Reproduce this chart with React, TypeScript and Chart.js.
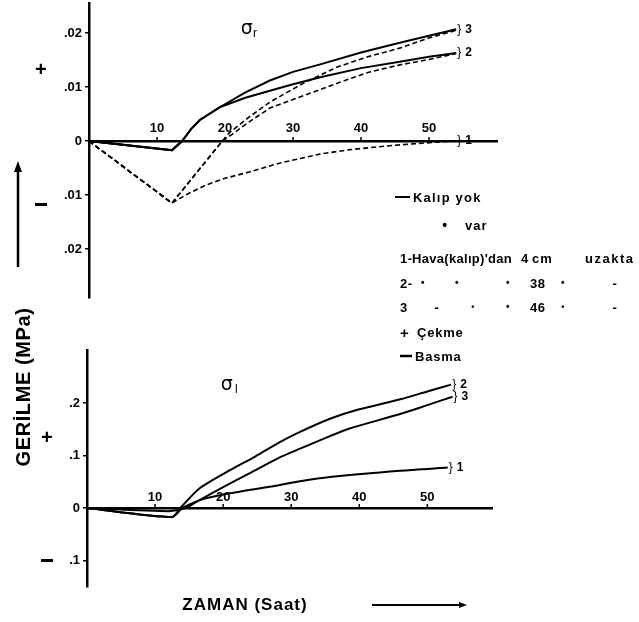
import React, { useEffect, useRef } from 'react';
import { Chart, registerables } from 'chart.js';

Chart.register(...registerables);

const FONT = '"Liberation Sans", Arial, Helvetica, sans-serif';

// ---------------- data ----------------
const TIME_TICKS = [10, 20, 30, 40, 50];

const SR_Y_TICKS = [0.02, 0.01, 0, -0.01, -0.02];
const SR_Y_LABELS = ['.02', '.01', '0', '.01', '.02'];
const SL_Y_TICKS = [0.2, 0.1, 0, -0.1];
const SL_Y_LABELS = ['.2', '.1', '0', '.1'];

// σr – Kalıp yok (solid)  [time (h), stress (MPa)]
const srYok1: number[][] = [[0, 0], [12.2, -0.0017], [13.7, 0], [54, 0]];
const srYok2: number[][] = [[0, 0], [12.2, -0.0017], [13.7, 0], [15, 0.0022], [16.3, 0.0039], [19.3, 0.0063], [23, 0.008], [26.6, 0.0093], [30, 0.0105], [34, 0.0118], [40, 0.0135], [45.7, 0.0147], [50, 0.0156], [54, 0.0163]];
const srYok3: number[][] = [[0, 0], [12.2, -0.0017], [13.7, 0], [15, 0.0022], [16.3, 0.0039], [19.3, 0.0063], [23, 0.009], [26.6, 0.0112], [30, 0.0128], [34, 0.0142], [40, 0.0164], [45.7, 0.0182], [50, 0.0195], [54, 0.0207]];
// σr – Kalıp var (dashed)
const srVar1: number[][] = [[0, 0], [12.2, -0.0115], [14.5, -0.0098], [17.3, -0.0081], [20, -0.0069], [23.7, -0.0057], [28, -0.0041], [34, -0.0024], [38.4, -0.0016], [44.7, -0.0008], [51.2, -0.0002], [54, 0]];
const srVar2: number[][] = [[0, 0], [12.2, -0.0115], [19.6, 0], [21, 0.0012], [23.5, 0.0035], [26.6, 0.0061], [31.5, 0.0084], [36.5, 0.0107], [41, 0.0127], [45.7, 0.0141], [50, 0.0151], [54, 0.0162]];
const srVar3: number[][] = [[0, 0], [12.2, -0.0115], [19.6, 0], [20.7, 0.0016], [23.5, 0.0044], [26.6, 0.0072], [31.5, 0.0107], [36.5, 0.0137], [41, 0.0156], [45.7, 0.0172], [50, 0.0191], [54, 0.0205]];

// σl (solid)
const sl1: number[][] = [[0, 0], [12, -0.006], [14.5, 0], [16.6, 0.015], [21, 0.028], [28.4, 0.044], [31.3, 0.051], [35.7, 0.059], [46, 0.071], [53, 0.077]];
const sl2: number[][] = [[0, 0], [12.5, -0.017], [13.7, 0], [16.6, 0.038], [21, 0.072], [24.7, 0.098], [28.4, 0.126], [31.3, 0.145], [35.7, 0.17], [40, 0.188], [46, 0.207], [50, 0.222], [53.5, 0.235]];
const sl3: number[][] = [[0, 0], [12.5, -0.017], [14, 0], [16.5, 0.015], [19.6, 0.037], [24, 0.067], [28.4, 0.097], [31.3, 0.113], [35.7, 0.137], [38.7, 0.152], [46, 0.179], [50, 0.196], [53.7, 0.212]];

// ---------------- helpers ----------------
const toXY = (pts: number[][]) => pts.map(([x, y]) => ({ x, y }));
const solid = (pts: number[][], endLabel?: string, tension = 0) => ({
  data: toXY(pts), borderColor: '#000', borderWidth: 2, pointRadius: 0, tension, fill: false, endLabel,
});
const dashed = (pts: number[][]) => ({
  data: toXY(pts), borderColor: '#000', borderWidth: 1.6, borderDash: [5, 3], pointRadius: 0, tension: 0, fill: false,
});

const makeAnnot = (labelOffset: number) => ({
  id: 'annot',
  afterDatasetsDraw(chart: any) {
    const { ctx } = chart;
    const x = chart.scales.x;
    const y = chart.scales.y;
    const y0 = y.getPixelForValue(0);
    ctx.save();
    ctx.fillStyle = '#000';
    ctx.strokeStyle = '#000';
    ctx.lineWidth = 1.5;
    ctx.font = `bold 13px ${FONT}`;
    ctx.textAlign = 'center';
    ctx.textBaseline = 'middle';
    for (const t of TIME_TICKS) {
      const px = x.getPixelForValue(t);
      ctx.beginPath();
      ctx.moveTo(px, y0);
      ctx.lineTo(px, y0 - 4);
      ctx.stroke();
      ctx.fillText(String(t), px, y0 - labelOffset);
    }
    ctx.textAlign = 'left';
    chart.data.datasets.forEach((ds: any) => {
      if (!ds.endLabel) return;
      const last = ds.data[ds.data.length - 1];
      const px = x.getPixelForValue(last.x);
      const py = y.getPixelForValue(last.y);
      ctx.font = `12px ${FONT}`;
      ctx.fillText('}', px + 1, py);
      ctx.font = `bold 12px ${FONT}`;
      ctx.fillText(ds.endLabel, px + 9, py);
    });
    ctx.restore();
  },
});

interface PanelProps {
  top: number; height: number; padding: any; yWidth: number; xMax: number;
  yMin: number; yMax: number; yTicks: number[]; yLabels: string[]; datasets: any[]; labelOffset: number;
}

function Panel(p: PanelProps) {
  const ref = useRef<HTMLCanvasElement>(null);
  useEffect(() => {
    const chart = new Chart(ref.current as HTMLCanvasElement, {
      type: 'line',
      data: { datasets: p.datasets },
      options: {
        animation: false,
        responsive: false,
        maintainAspectRatio: false,
        events: [],
        layout: { padding: p.padding },
        plugins: { legend: { display: false }, tooltip: { enabled: false } },
        scales: {
          x: {
            type: 'linear', min: 0, max: p.xMax, position: { y: 0 } as any,
            ticks: { display: false }, grid: { display: false },
            border: { display: true, color: '#000', width: 2.5 },
          },
          y: {
            type: 'linear', min: p.yMin, max: p.yMax, position: 'left',
            afterBuildTicks: (s: any) => { s.ticks = p.yTicks.map((v) => ({ value: v })); },
            afterFit: (s: any) => { s.width = p.yWidth; s.paddingTop = 0; s.paddingBottom = 0; },
            ticks: {
              callback: (_v: any, i: number) => p.yLabels[i] ?? '',
              font: { size: 13, weight: 'bold', family: FONT }, color: '#000', padding: 3,
            },
            grid: { display: true, drawOnChartArea: false, drawTicks: true, tickLength: 4, color: '#000', lineWidth: 1.5 },
            border: { display: true, color: '#000', width: 2.5 },
          },
        },
      } as any,
      plugins: [makeAnnot(p.labelOffset)],
    });
    return () => chart.destroy();
  }, []);
  return (
    <canvas ref={ref} width={639} height={p.height}
      style={{ position: 'absolute', left: 0, top: p.top, width: 639, height: p.height }} />
  );
}

function T(props: { x: number; y: number; s: string; size?: number; bold?: boolean; ls?: number; center?: boolean; family?: string }) {
  const { x, y, s, size = 14, bold = true, ls = 0.5, center = false, family = FONT } = props;
  return (
    <div style={{
      position: 'absolute', left: x, top: y, transform: center ? 'translate(-50%,-50%)' : 'translate(0,-50%)',
      fontFamily: family, fontWeight: bold ? 700 : 400, fontSize: size, lineHeight: 1, whiteSpace: 'pre',
      letterSpacing: ls, color: '#000', pointerEvents: 'none',
    }}>{s}</div>
  );
}

export default function App() {
  const topSets = [
    solid(srYok1, '1'), solid(srYok2, '2'), solid(srYok3, '3'),
    dashed(srVar1), dashed(srVar2), dashed(srVar3),
  ];
  const botSets = [solid(sl1, '1', 0.25), solid(sl2, '2', 0.25), solid(sl3, '3', 0.25)];

  return (
    <div style={{ position: 'fixed', left: 0, top: 0, width: 639, height: 622, background: '#fff', overflow: 'hidden' }}>
      <Panel top={0} height={310} padding={{ left: 0, top: 3, right: 142, bottom: 12 }} yWidth={89} xMax={60}
        yMin={-0.02907} yMax={0.02556} yTicks={SR_Y_TICKS} yLabels={SR_Y_LABELS} datasets={topSets} labelOffset={13} />
      <Panel top={320} height={280} padding={{ left: 0, top: 30, right: 147, bottom: 13 }} yWidth={87} xMax={59.5}
        yMin={-0.1505} yMax={0.301} yTicks={SL_Y_TICKS} yLabels={SL_Y_LABELS} datasets={botSets} labelOffset={11} />

      <svg width={639} height={622} style={{ position: 'absolute', left: 0, top: 0, pointerEvents: 'none' }}>
        <line x1={18} y1={267} x2={18} y2={170} stroke="#000" strokeWidth={2.5} />
        <polygon points="18,161 14,172 22,172" fill="#000" />
        <line x1={372} y1={605} x2={460} y2={605} stroke="#000" strokeWidth={2} />
        <polygon points="467,605 459,602 459,608" fill="#000" />
        <line x1={395} y1={197} x2={410} y2={197} stroke="#000" strokeWidth={2} />
        <line x1={400} y1={356} x2={412} y2={356} stroke="#000" strokeWidth={2.5} />
      </svg>

      {/* panel titles */}
      <T x={247} y={27} s="σ" size={19} bold={false} center family='"DejaVu Sans", sans-serif' />
      <T x={253} y={33} s="r" size={12} bold={false} />
      <T x={227} y={383} s="σ" size={19} bold={false} center family='"DejaVu Sans", sans-serif' />
      <T x={235} y={389} s="l" size={12} bold={false} />

      {/* signs */}
      <T x={41} y={69} s="+" size={20} center />
      <div style={{ position: 'absolute', left: 35, top: 203, width: 12, height: 3, background: '#000' }} />
      <T x={47} y={437} s="+" size={20} center />
      <div style={{ position: 'absolute', left: 41, top: 559, width: 12, height: 3, background: '#000' }} />

      {/* axis titles */}
      <div style={{
        position: 'absolute', left: 23, top: 387, transform: 'translate(-50%,-50%) rotate(-90deg)',
        fontFamily: FONT, fontWeight: 700, fontSize: 20, letterSpacing: 0.6, whiteSpace: 'pre', lineHeight: 1,
      }}>GERİLME (MPa)</div>
      <T x={245} y={604} s="ZAMAN (Saat)" size={17} center ls={1} />

      {/* legend */}
      <T x={413} y={197} s="Kalıp yok" size={13} ls={1.2} />
      <T x={445} y={225} s="•" size={14} center />
      <T x={465} y={225} s="var" size={13} ls={1} />
      <T x={400} y={258} s="1-" size={13} />
      <T x={412} y={258} s="Hava(kalıp)'dan" size={13} ls={0.3} />
      <T x={521} y={258} s="4" size={13} />
      <T x={532} y={258} s="cm" size={13} ls={1} />
      <T x={585} y={258} s="uzakta" size={13} ls={1.5} />
      <T x={400} y={283} s="2-" size={13} />
      <T x={423} y={283} s="•" size={10} center />
      <T x={457} y={283} s="•" size={10} center />
      <T x={508} y={283} s="•" size={10} center />
      <T x={530} y={283} s="38" size={13} />
      <T x={563} y={283} s="•" size={10} center />
      <T x={615} y={283} s="-" size={13} center />
      <T x={400} y={307} s="3" size={13} />
      <T x={437} y={307} s="-" size={13} center />
      <T x={473} y={307} s="•" size={9} center />
      <T x={508} y={307} s="•" size={10} center />
      <T x={530} y={307} s="46" size={13} />
      <T x={563} y={307} s="•" size={9} center />
      <T x={615} y={307} s="-" size={13} center />
      <T x={400} y={332} s="+" size={15} />
      <T x={417} y={332} s="Çekme" size={13} ls={0.8} />
      <T x={415} y={356} s="Basma" size={13} ls={0.8} />
    </div>
  );
}
